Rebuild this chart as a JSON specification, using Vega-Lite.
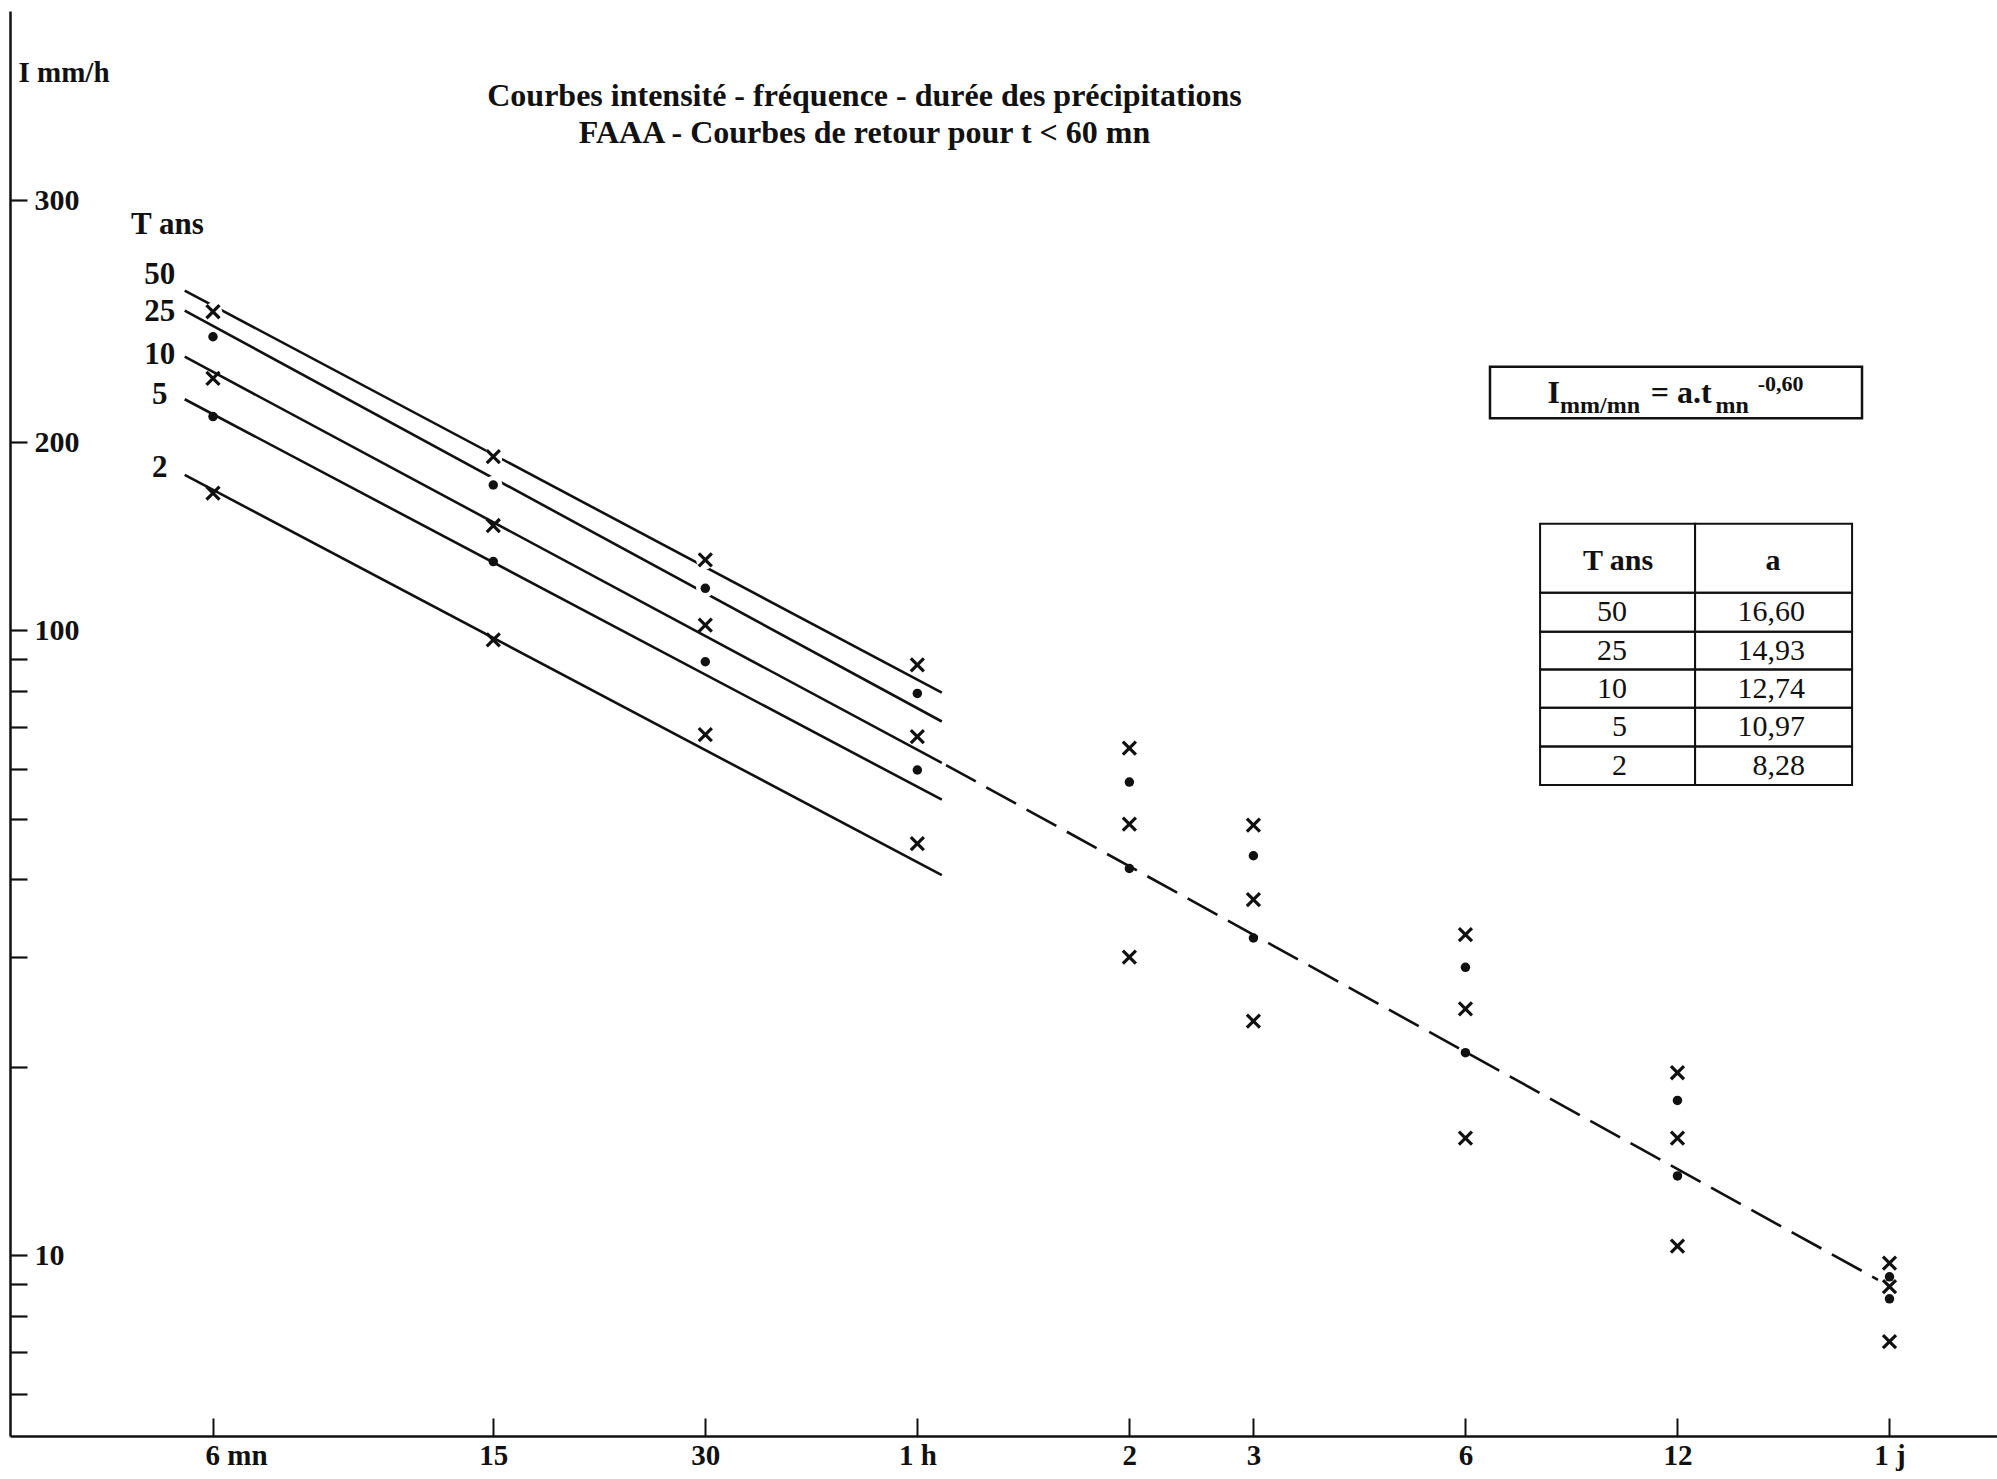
{
  "$schema": "https://vega.github.io/schema/vega-lite/v6.json",
  "width": 1987,
  "height": 1425,
  "autosize": {"type": "none"},
  "padding": {"left": 10, "top": 11, "right": 0, "bottom": 43},
  "background": "white",
  "config": {"view": {"stroke": null}, "font": "Liberation Serif"},
  "title": {
    "text": ["Courbes intensité - fréquence - durée des précipitations", "FAAA - Courbes de retour pour t < 60 mn"],
    "anchor": "middle", "frame": "group", "dx": -139, "offset": -139, "baseline": "top",
    "lineHeight": 37, "fontSize": 32, "font": "Liberation Serif", "fontWeight": "bold", "color": "#111"
  },
  "datasets": {
    "lines": [
      {"T": 50, "t": 5.47, "I": 349.8}, {"T": 50, "t": 65, "I": 79.5},
      {"T": 25, "t": 5.47, "I": 324.9}, {"T": 25, "t": 65, "I": 71.5},
      {"T": 10, "t": 5.47, "I": 274.2}, {"T": 10, "t": 65, "I": 61.4},
      {"T": 5, "t": 5.47, "I": 234.4}, {"T": 5, "t": 65, "I": 53.6},
      {"T": 2, "t": 5.47, "I": 177.4}, {"T": 2, "t": 65, "I": 40.6}
    ],
    "dashed": [{"t": 65.9, "I": 60.9}, {"t": 1387, "I": 9.14}],
    "markers": [
      {"T": 50, "t": 6, "I": 323.6}, {"T": 25, "t": 6, "I": 295.1}, {"T": 10, "t": 6, "I": 253.2}, {"T": 5, "t": 6, "I": 219.9}, {"T": 2, "t": 6, "I": 165.8},
      {"T": 50, "t": 15, "I": 189.7}, {"T": 25, "t": 15, "I": 170.9}, {"T": 10, "t": 15, "I": 147.2}, {"T": 5, "t": 15, "I": 128.9}, {"T": 2, "t": 15, "I": 96.6},
      {"T": 50, "t": 30, "I": 129.7}, {"T": 25, "t": 30, "I": 116.8}, {"T": 10, "t": 30, "I": 102.0}, {"T": 5, "t": 30, "I": 89.1}, {"T": 2, "t": 30, "I": 68.1},
      {"T": 50, "t": 60, "I": 88.1}, {"T": 25, "t": 60, "I": 79.3}, {"T": 10, "t": 60, "I": 67.6}, {"T": 5, "t": 60, "I": 59.8}, {"T": 2, "t": 60, "I": 45.6},
      {"T": 50, "t": 120, "I": 64.8}, {"T": 25, "t": 120, "I": 57.2}, {"T": 10, "t": 120, "I": 49.0}, {"T": 5, "t": 120, "I": 41.6}, {"T": 2, "t": 120, "I": 30.0},
      {"T": 50, "t": 180, "I": 48.8}, {"T": 25, "t": 180, "I": 43.6}, {"T": 10, "t": 180, "I": 37.1}, {"T": 5, "t": 180, "I": 32.2}, {"T": 2, "t": 180, "I": 23.7},
      {"T": 50, "t": 360, "I": 32.6}, {"T": 25, "t": 360, "I": 28.9}, {"T": 10, "t": 360, "I": 24.8}, {"T": 5, "t": 360, "I": 21.1}, {"T": 2, "t": 360, "I": 15.4},
      {"T": 50, "t": 720, "I": 19.6}, {"T": 25, "t": 720, "I": 17.7}, {"T": 10, "t": 720, "I": 15.4}, {"T": 5, "t": 720, "I": 13.4}, {"T": 2, "t": 720, "I": 10.35},
      {"T": 50, "t": 1440, "I": 9.72}, {"T": 25, "t": 1440, "I": 9.24}, {"T": 10, "t": 1440, "I": 8.91}, {"T": 5, "t": 1440, "I": 8.52}, {"T": 2, "t": 1440, "I": 7.28}
    ],
    "tlabels": [
      {"txt": "50", "t": 5.04, "I": 370.6}, {"txt": "25", "t": 5.04, "I": 323.6},
      {"txt": "10", "t": 5.04, "I": 275.9}, {"txt": "5", "t": 5.04, "I": 238.1},
      {"txt": "2", "t": 5.04, "I": 181.7}, {"txt": "T ans", "t": 5.17, "I": 445.5}
    ],
    "box": [{"t": 390.1, "t2": 1316.3, "I": 264.3, "I2": 218.5}],
    "fmain": [{"txt": "I", "t": 470.9, "I": 231.2}, {"txt": "= a.t", "t": 659.7, "I": 231.2}],
    "fsub": [{"txt": "mm/mn", "t": 490.5, "I": 223.1}, {"txt": "mn", "t": 815.4, "I": 223.1}],
    "fsup": [{"txt": "-0,60", "t": 935.8, "I": 241.5}],
    "cells": [
      {"t": 459.5, "t2": 762.6, "I": 148.1, "I2": 114.9}, {"t": 762.6, "t2": 1274.2, "I": 148.1, "I2": 114.9},
      {"t": 459.5, "t2": 762.6, "I": 114.9, "I2": 99.56}, {"t": 762.6, "t2": 1274.2, "I": 114.9, "I2": 99.56},
      {"t": 459.5, "t2": 762.6, "I": 99.56, "I2": 86.57}, {"t": 762.6, "t2": 1274.2, "I": 99.56, "I2": 86.57},
      {"t": 459.5, "t2": 762.6, "I": 86.57, "I2": 75.24}, {"t": 762.6, "t2": 1274.2, "I": 86.57, "I2": 75.24},
      {"t": 459.5, "t2": 762.6, "I": 75.24, "I2": 65.19}, {"t": 762.6, "t2": 1274.2, "I": 75.24, "I2": 65.19},
      {"t": 459.5, "t2": 762.6, "I": 65.19, "I2": 56.58}, {"t": 762.6, "t2": 1274.2, "I": 65.19, "I2": 56.58}
    ],
    "thead": [{"txt": "T ans", "t": 592.9, "I": 129}, {"txt": "a", "t": 984.2, "I": 129}],
    "tbody": [
      {"txt": "50", "t": 610.6, "I": 106.98}, {"txt": "16,60", "t": 1092.6, "I": 106.98},
      {"txt": "25", "t": 610.6, "I": 92.83}, {"txt": "14,93", "t": 1092.6, "I": 92.83},
      {"txt": "10", "t": 610.6, "I": 80.70}, {"txt": "12,74", "t": 1092.6, "I": 80.70},
      {"txt": "5", "t": 610.6, "I": 70.03}, {"txt": "10,97", "t": 1092.6, "I": 70.03},
      {"txt": "2", "t": 610.6, "I": 60.74}, {"txt": "8,28", "t": 1092.6, "I": 60.74}
    ]
  },
  "encoding": {
    "x": {
      "field": "t", "type": "quantitative",
      "scale": {"type": "log", "domain": [3.09, 2046.4], "nice": false},
      "axis": {
        "values": [6, 15, 30, 60, 120, 180, 360, 720, 1440],
        "labelExpr": "datum.value==6?'6 mn':datum.value==15?'15':datum.value==30?'30':datum.value==60?'1 h':datum.value==120?'2':datum.value==180?'3':datum.value==360?'6':datum.value==720?'12':'1 j'",
        "labelOffset": {"condition": {"test": "datum.value == 6", "value": 23}, "value": 0},
        "title": null, "grid": false, "tickSize": -18, "tickWidth": 2, "tickColor": "#111",
        "labelPadding": 23.5, "labelFont": "Liberation Serif", "labelFontWeight": "bold", "labelFontSize": 29,
        "labelColor": "#111", "labelFlush": false, "labelOverlap": false,
        "domainColor": "#111", "domainWidth": 2.5
      }
    },
    "y": {
      "field": "I", "type": "quantitative",
      "scale": {"type": "log", "domain": [5.14, 980], "nice": false},
      "axis": {
        "values": [6, 7, 8, 9, 10, 20, 30, 40, 50, 60, 70, 80, 90, 100, 200, 488],
        "labelExpr": "datum.value==10?'10':datum.value==100?'100':datum.value==200?'200':datum.value==488?'300':''",
        "grid": false, "tickSize": -17, "tickWidth": 2.2, "tickColor": "#111",
        "labelPadding": -7, "labelAlign": "left", "labelBaseline": "middle",
        "labelFont": "Liberation Serif", "labelFontWeight": "bold", "labelFontSize": 30, "labelColor": "#111",
        "labelFlush": false, "labelOverlap": false,
        "domainColor": "#111", "domainWidth": 2.5,
        "title": "I mm/h", "titleAngle": 0, "titleX": 8, "titleY": 61.5, "titleAlign": "left", "titleBaseline": "middle",
        "titleFont": "Liberation Serif", "titleFontSize": 29, "titleFontWeight": "bold", "titleColor": "#111"
      }
    }
  },
  "layer": [
    {"data": {"name": "lines"}, "mark": {"type": "line", "color": "#111", "strokeWidth": 2.6, "clip": false}, "encoding": {"detail": {"field": "T", "type": "nominal"}}},
    {"data": {"name": "dashed"}, "mark": {"type": "line", "color": "#111", "strokeWidth": 2.6, "strokeDash": [34, 12]}, "encoding": {}},
    {"data": {"name": "markers"}, "transform": [{"filter": "(datum.T == 50 && datum.t <= 30) || (datum.T == 25 && (datum.t == 15 || datum.t == 30))"}],
      "mark": {"type": "point", "shape": "circle", "size": 340, "filled": true, "color": "white", "opacity": 1}},
    {"data": {"name": "markers"}, "transform": [{"filter": "datum.T == 50 || datum.T == 10 || datum.T == 2"}],
      "mark": {"type": "point", "shape": "M-1,-1L1,1M-1,1L1,-1", "size": 170, "filled": false, "stroke": "#111", "strokeWidth": 3.2, "opacity": 1}},
    {"data": {"name": "markers"}, "transform": [{"filter": "datum.T == 25 || datum.T == 5"}],
      "mark": {"type": "point", "shape": "circle", "size": 90, "filled": true, "color": "#111", "opacity": 1}},
    {"data": {"name": "tlabels"}, "mark": {"type": "text", "font": "Liberation Serif", "fontWeight": "bold", "fontSize": 31, "color": "#111", "align": "center", "baseline": "middle"}, "encoding": {"text": {"field": "txt"}}},
    {"data": {"name": "box"}, "mark": {"type": "rect", "fill": "transparent", "stroke": "#111", "strokeWidth": 2.5}, "encoding": {"x2": {"field": "t2"}, "y2": {"field": "I2"}}},
    {"data": {"name": "fmain"}, "mark": {"type": "text", "font": "Liberation Serif", "fontWeight": "bold", "fontSize": 32, "color": "#111", "align": "left", "baseline": "alphabetic"}, "encoding": {"text": {"field": "txt"}}},
    {"data": {"name": "fsub"}, "mark": {"type": "text", "font": "Liberation Serif", "fontWeight": "bold", "fontSize": 24, "color": "#111", "align": "left", "baseline": "alphabetic"}, "encoding": {"text": {"field": "txt"}}},
    {"data": {"name": "fsup"}, "mark": {"type": "text", "font": "Liberation Serif", "fontWeight": "bold", "fontSize": 22, "color": "#111", "align": "left", "baseline": "alphabetic"}, "encoding": {"text": {"field": "txt"}}},
    {"data": {"name": "cells"}, "mark": {"type": "rect", "fill": "transparent", "stroke": "#111", "strokeWidth": 2}, "encoding": {"x2": {"field": "t2"}, "y2": {"field": "I2"}}},
    {"data": {"name": "thead"}, "mark": {"type": "text", "font": "Liberation Serif", "fontWeight": "bold", "fontSize": 30, "color": "#111", "align": "center", "baseline": "middle"}, "encoding": {"text": {"field": "txt"}}},
    {"data": {"name": "tbody"}, "mark": {"type": "text", "font": "Liberation Serif", "fontSize": 30, "color": "#111", "align": "right", "baseline": "middle"}, "encoding": {"text": {"field": "txt"}}}
  ]
}
